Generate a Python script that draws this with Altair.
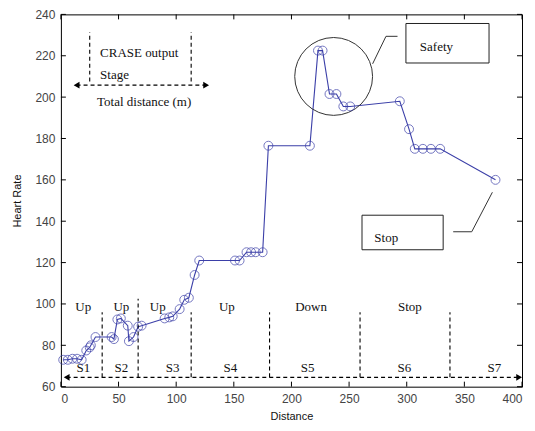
import altair as alt
import pandas as pd

# ---- data series ----
distance = [2, 6, 10, 14, 18, 22, 25, 26, 30, 44, 46, 49, 52, 58, 59, 63, 67, 70,
            90, 94, 97, 103, 107, 111, 116, 120, 151, 155, 161, 165, 169, 175, 180,
            216, 223, 227, 233, 239, 245, 251, 294, 302, 307, 314, 321, 329, 377]
heart_rate = [73, 73, 73.5, 73.5, 73, 77.5, 79, 80, 84, 84, 83, 92.5, 93, 89.5, 82, 84, 89, 89.5,
              93, 93.5, 94, 97.5, 102, 103, 114, 121, 121, 121, 125, 125, 125, 125, 176.5,
              176.5, 222.5, 222.5, 201.5, 201.5, 195.5, 195.5, 198, 184.5, 175, 175, 175, 175, 160]

x_ticks = [0, 50, 100, 150, 200, 250, 300, 350, 400]
y_ticks = [60, 80, 100, 120, 140, 160, 180, 200, 220, 240]

# stages
stage_bounds = [35.8, 67, 113, 181, 259.5, 337.5]
stage_bound_top = [96, 102.5, 96, 96, 96, 96]
stage_base = 64.5
terrain_labels = ["Up", "Up", "Up", "Up", "Down", "Stop"]
terrain_x = [19.4, 52.5, 84, 144, 217, 302.7]
terrain_y = 98.6
stage_labels = ["S1", "S2", "S3", "S4", "S5", "S6", "S7"]
stage_x = [19.4, 52.5, 97, 147, 214, 298, 376]
stage_y = 69
arrow_start, arrow_end = 5, 397.5

# legend (key) in top-left
key_left_x, key_right_x = 25, 113
key_top, key_bottom = 231.4, 207.5
key_arrow_y = 205.8
key_arrow_from, key_arrow_to = 13.6, 126
key_texts = ["CRASE output", "Stage", "Total distance (m)"]
key_text_x = [34, 34, 31.4]
key_text_y = [221.2, 210.5, 197.5]

# annotations
safety_circle = (236.6, 210)
box_labels = ["Safety", "Stop"]
box_x1 = [299.3, 261.2]
box_x2 = [371.4, 331.6]
box_y1 = [216.5, 126.2]
box_y2 = [235.6, 142.9]
box_text_x = [311.4, 271.9]
box_text_y = [224.4, 132]
callout_x1 = [270.4, 282, 340.3, 356.4]
callout_x2 = [282, 292, 356.4, 374.3]
callout_y1 = [216.1, 229.4, 134.9, 134.9]
callout_y2 = [229.4, 229.4, 134.9, 154]

W, H = 462, 373
BLUE = "#3b3fa8"
SERIF = "Liberation Serif"
SANS = "Liberation Sans"
FS = 13

xs = alt.Scale(domain=[0, 400], nice=False, zero=False)
ys = alt.Scale(domain=[60, 240], nice=False, zero=False)

series = pd.DataFrame({"d": distance, "hr": heart_rate, "i": range(len(distance))})

x_axis = alt.Axis(values=x_ticks, tickSize=0, domain=False, grid=False, labelFont=SANS,
                  labelFontSize=12, labelColor="#444", labelPadding=7, title="Distance",
                  titleFont=SANS, titleFontSize=11, titleFontWeight="normal",
                  titleColor="#111", titlePadding=6)
y_axis = alt.Axis(values=y_ticks, tickSize=0, domain=False, grid=False, labelFont=SANS,
                  labelFontSize=12, labelColor="#444", labelPadding=6, title="Heart Rate",
                  titleFont=SANS, titleFontSize=11, titleFontWeight="normal",
                  titleColor="#111", titlePadding=12)

line = alt.Chart(series).mark_line(color=BLUE, strokeWidth=1.1).encode(
    x=alt.X("d:Q", scale=xs, axis=x_axis),
    y=alt.Y("hr:Q", scale=ys, axis=y_axis),
    order="i:Q",
)
pts = alt.Chart(series).mark_point(shape="circle", filled=False, color=BLUE, size=80,
                                   strokeWidth=1).encode(
    x=alt.X("d:Q", scale=xs), y=alt.Y("hr:Q", scale=ys))

# dashed rules: stage boundaries, bottom arrow line, key
dash_rows = []
for bx, bt in zip(stage_bounds, stage_bound_top):
    dash_rows.append({"x1": bx, "x2": bx, "y1": stage_base, "y2": bt})
dash_rows.append({"x1": arrow_start, "x2": arrow_end, "y1": stage_base, "y2": stage_base})
dash_rows.append({"x1": key_left_x, "x2": key_left_x, "y1": key_bottom, "y2": key_top})
dash_rows.append({"x1": key_right_x, "x2": key_right_x, "y1": key_bottom, "y2": key_top})
dash_rows.append({"x1": key_arrow_from, "x2": key_arrow_to, "y1": key_arrow_y, "y2": key_arrow_y})
dashes = alt.Chart(pd.DataFrame(dash_rows)).mark_rule(color="black", strokeWidth=1.1,
                                                     strokeDash=[4, 3]).encode(
    x=alt.X("x1:Q", scale=xs), x2="x2:Q", y=alt.Y("y1:Q", scale=ys), y2="y2:Q")

arrows = pd.DataFrame({
    "x": [arrow_start, arrow_end, key_arrow_from, key_arrow_to],
    "y": [stage_base, stage_base, key_arrow_y, key_arrow_y],
    "s": ["triangle-left", "triangle-right", "triangle-left", "triangle-right"],
})
heads = alt.Chart(arrows).mark_point(filled=True, color="black", size=45, opacity=1).encode(
    x=alt.X("x:Q", scale=xs), y=alt.Y("y:Q", scale=ys),
    shape=alt.Shape("s:N", scale=None, legend=None))

terr = alt.Chart(pd.DataFrame({"x": terrain_x, "y": [terrain_y] * len(terrain_x),
                               "t": terrain_labels})).mark_text(
    font=SERIF, fontSize=FS, color="#111", align="center", baseline="middle").encode(
    x=alt.X("x:Q", scale=xs), y=alt.Y("y:Q", scale=ys), text="t:N")
stg = alt.Chart(pd.DataFrame({"x": stage_x, "y": [stage_y] * len(stage_x),
                              "t": stage_labels})).mark_text(
    font=SERIF, fontSize=FS, color="#111", align="center", baseline="middle").encode(
    x=alt.X("x:Q", scale=xs), y=alt.Y("y:Q", scale=ys), text="t:N")
keyt = alt.Chart(pd.DataFrame({"x": key_text_x, "y": key_text_y, "t": key_texts})).mark_text(
    font=SERIF, fontSize=FS, color="#111", align="left", baseline="middle").encode(
    x=alt.X("x:Q", scale=xs), y=alt.Y("y:Q", scale=ys), text="t:N")

circ = alt.Chart(pd.DataFrame({"x": [safety_circle[0]], "y": [safety_circle[1]]})).mark_point(
    shape="circle", filled=False, color="#333", size=6084, strokeWidth=1, opacity=1).encode(
    x=alt.X("x:Q", scale=xs), y=alt.Y("y:Q", scale=ys))

callouts = alt.Chart(pd.DataFrame({"x1": callout_x1, "x2": callout_x2, "y1": callout_y1,
                                   "y2": callout_y2})).mark_rule(color="#333", strokeWidth=1).encode(
    x=alt.X("x1:Q", scale=xs), x2="x2:Q", y=alt.Y("y1:Q", scale=ys), y2="y2:Q")

boxes = alt.Chart(pd.DataFrame({"x1": box_x1, "x2": box_x2, "y1": box_y1, "y2": box_y2})).mark_rect(
    fill="white", stroke="#222", strokeWidth=1).encode(
    x=alt.X("x1:Q", scale=xs), x2="x2:Q", y=alt.Y("y1:Q", scale=ys), y2="y2:Q")
boxt = alt.Chart(pd.DataFrame({"x": box_text_x, "y": box_text_y, "t": box_labels})).mark_text(
    font=SERIF, fontSize=FS, color="#111", align="left", baseline="middle").encode(
    x=alt.X("x:Q", scale=xs), y=alt.Y("y:Q", scale=ys), text="t:N")

# inward ticks (MATLAB-style box)
xt = pd.DataFrame({"v": x_ticks})
yt = pd.DataFrame({"v": y_ticks})
tk = dict(color="black", strokeWidth=1)
t_bottom = alt.Chart(xt).mark_rule(**tk).encode(x=alt.X("v:Q", scale=xs), y=alt.value(H), y2=alt.value(H - 5))
t_top = alt.Chart(xt).mark_rule(**tk).encode(x=alt.X("v:Q", scale=xs), y=alt.value(0), y2=alt.value(5))
t_left = alt.Chart(yt).mark_rule(**tk).encode(y=alt.Y("v:Q", scale=ys), x=alt.value(0), x2=alt.value(5))
t_right = alt.Chart(yt).mark_rule(**tk).encode(y=alt.Y("v:Q", scale=ys), x=alt.value(W - 5), x2=alt.value(W))

chart = alt.layer(
    line, dashes, heads, terr, stg, keyt, circ, callouts, boxes, boxt, pts,
    t_bottom, t_top, t_left, t_right,
).properties(
    width=W, height=H,
    autosize=alt.AutoSizeParams(type="none"),
    padding={"left": 53, "top": 6, "right": 5, "bottom": 40},
    background="white",
).configure_view(stroke="black", strokeWidth=1)

chart.save("out.html", embed_options={"renderer": "svg", "actions": False})
